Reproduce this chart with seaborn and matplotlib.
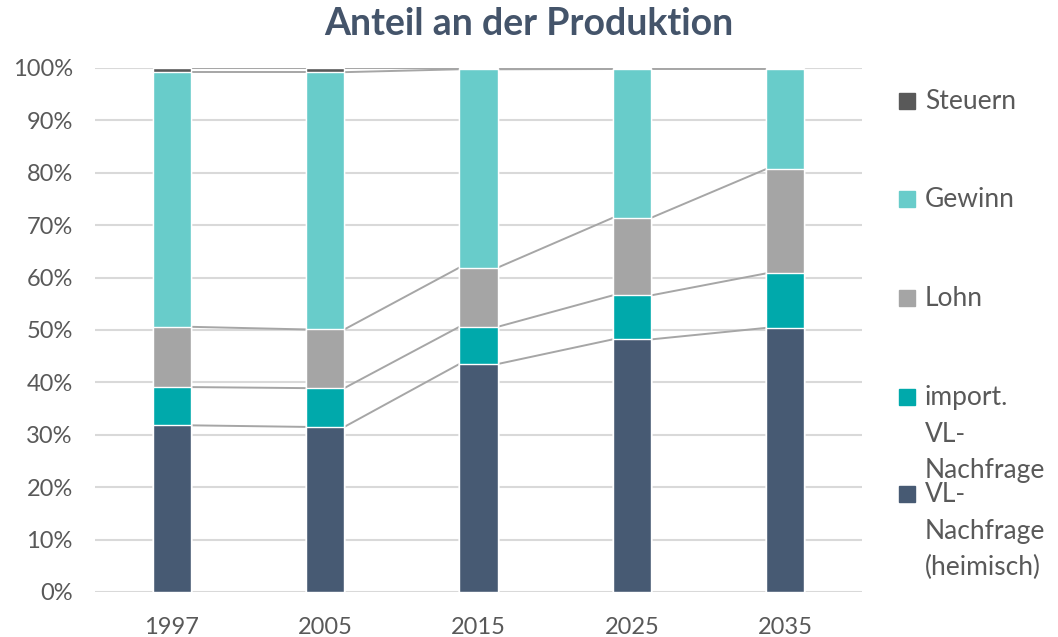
import numpy as np
import pandas as pd
import matplotlib
matplotlib.use("Agg")
import matplotlib.pyplot as plt
from matplotlib.patches import Rectangle
from matplotlib.ticker import PercentFormatter
import seaborn as sns

years = ["1997", "2005", "2015", "2025", "2035"]
vl_heimisch = [31.8, 31.5, 43.5, 48.2, 50.4]
vl_import = [7.3, 7.4, 7.1, 8.4, 10.4]
lohn = [11.5, 11.2, 11.3, 14.8, 19.9]
gewinn = [48.6, 49.1, 37.85, 28.4, 19.1]
steuern = [0.8, 0.8, 0.25, 0.2, 0.2]

series_names = ["VL-\nNachfrage\n(heimisch)", "import.\nVL-\nNachfrage", "Lohn", "Gewinn", "Steuern"]
series_values = [vl_heimisch, vl_import, lohn, gewinn, steuern]
colors = ["#475A73", "#00A9AB", "#A5A5A5", "#68CCCA", "#595959"]

sns.set_theme(style="white")
plt.rcParams["font.family"] = ["Lato", "DejaVu Sans"]

df = pd.DataFrame({"year": years})
cum = np.cumsum(np.array(series_values), axis=0)
for i in range(len(series_names)):
    df[f"cum{i}"] = cum[i]

fig = plt.figure(figsize=(10.58, 6.37), dpi=100)
ax = fig.add_axes([0.0898, 0.0707, 0.7249, 0.8226])

bar_w = 0.25
# draw from the top layer down so the lower ones sit on top
for i in reversed(range(len(series_names))):
    sns.barplot(data=df, x="year", y=f"cum{i}", color=colors[i], width=bar_w,
                saturation=1, ax=ax, zorder=3)

# series lines connecting the segment boundaries
for i in range(len(series_names)):
    for j in range(len(years) - 1):
        ax.plot([j + bar_w / 2, j + 1 - bar_w / 2], [cum[i][j], cum[i][j + 1]],
                color="#A6A6A6", lw=1.4, zorder=2)

ax.set_xlim(-0.5, 4.5)
ax.set_ylim(0, 100)
ax.set_yticks(np.arange(0, 101, 10))
ax.yaxis.set_major_formatter(PercentFormatter(decimals=0))
ax.grid(axis="y", color="#D9D9D9", lw=1.5, zorder=0)
ax.set_axisbelow(True)
for s in ax.spines.values():
    s.set_visible(False)
ax.set_xlabel("")
ax.set_ylabel("")
ax.tick_params(axis="both", length=0, labelsize=17, colors="#595959")
ax.tick_params(axis="x", pad=18)
ax.tick_params(axis="y", pad=16)

fig.text(0.5, 0.962, "Anteil an der Produktion", ha="center", va="center",
         fontsize=27, fontweight="bold", color="#44546A")

# legend on the right
legend_y = [101, 199, 298, 397, 494]
labels_top = ["Steuern", "Gewinn", "Lohn", "import.\nVL-\nNachfrage", "VL-\nNachfrage\n(heimisch)"]
col_top = [colors[4], colors[3], colors[2], colors[1], colors[0]]
for y, lab, c in zip(legend_y, labels_top, col_top):
    fig.patches.append(Rectangle((899 / 1058, 1 - (y + 8) / 637), 16 / 1058, 16 / 637,
                                 transform=fig.transFigure, color=c))
    fig.text(925 / 1058, 1 - (y - 12) / 637, lab, ha="left", va="top", fontsize=19,
             color="#595959", linespacing=1.58)

fig.savefig("out.png", dpi=100)
